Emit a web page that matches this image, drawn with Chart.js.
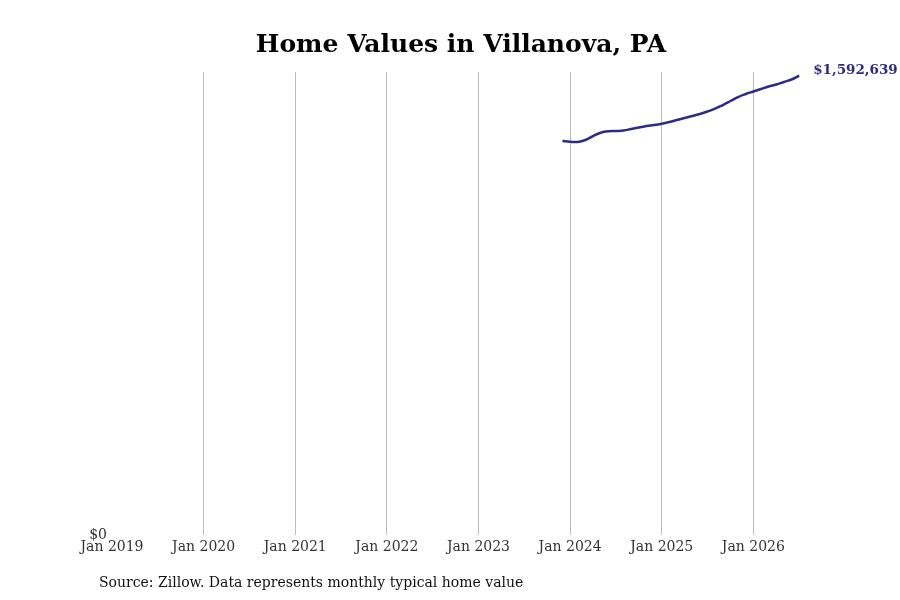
<!DOCTYPE html>
<html>
<head>
<meta charset="utf-8">
<script src="https://cdn.jsdelivr.net/npm/chart.js@4.4.1/dist/chart.umd.min.js"></script>
<style>
  html, body { margin: 0; padding: 0; background: #fff; }
  #wrap { position: relative; width: 900px; height: 600px; }
  #source {
    position: absolute; left: 99px; top: 574px;
    font: 14px "DejaVu Serif", serif; color: #111;
  }
</style>
</head>
<body>
<div id="wrap">
  <canvas id="chart" width="900" height="600"></canvas>
  <div id="source">Source: Zillow. Data represents monthly typical home value</div>
</div>
<script>
// months counted from Jan 2019 (0 = Jan 2019)
const startYear = 2019;
const months = [59, 60, 61, 62, 63, 64, 65, 66, 67, 68, 69, 70, 71, 72, 73, 74,
  75, 76, 77, 78, 79, 80, 81, 82, 83, 84, 85, 86, 87, 88, 89, 90];
const homeValues = [1365800, 1363400, 1362500, 1369300, 1383100, 1394600, 1399500, 1400500,
  1402200, 1407400, 1412600, 1417800, 1421300, 1425800, 1431700, 1438600,
  1445500, 1452500, 1459400, 1468100, 1477800, 1490600, 1504500, 1518300,
  1528700, 1537400, 1546100, 1554700, 1561700, 1570300, 1579000, 1592639];
const lastLabel = '$1,592,639';

const lineColor = '#2f2a86';

const endLabel = {
  id: 'endLabel',
  afterDatasetsDraw(chart) {
    const meta = chart.getDatasetMeta(0);
    const pt = meta.data[meta.data.length - 1];
    const ctx = chart.ctx;
    ctx.save();
    ctx.font = 'bold 13.5px "DejaVu Serif", serif';
    ctx.fillStyle = lineColor;
    ctx.textBaseline = 'middle';
    ctx.fillText(lastLabel, pt.x + 14, pt.y - 5);
    ctx.restore();
  }
};

new Chart(document.getElementById('chart'), {
  type: 'line',
  data: {
    datasets: [{
      data: months.map((m, i) => ({ x: m, y: homeValues[i] })),
      borderColor: lineColor,
      borderWidth: 2.5,
      pointRadius: 0,
      tension: 0.4,
      fill: false
    }]
  },
  options: {
    responsive: false,
    animation: false,
    layout: { padding: { left: 90, right: 68, top: 10, bottom: 40 } },
    plugins: {
      legend: { display: false },
      tooltip: { enabled: false },
      title: {
        display: true,
        text: 'Home Values in Villanova, PA',
        color: '#000',
        font: { family: 'DejaVu Serif', size: 25, weight: 'bold' },
        padding: { top: 20, bottom: 12 }
      }
    },
    scales: {
      x: {
        type: 'linear',
        min: 0,
        max: 94.3,
        border: { display: false },
        grid: {
          drawTicks: false,
          color: c => (c.tick && c.tick.value === 0) ? 'rgba(0,0,0,0)' : '#bdbdbd',
          lineWidth: 1
        },
        ticks: {
          stepSize: 12,
          padding: 4,
          maxRotation: 0,
          color: '#333',
          font: { family: 'DejaVu Serif', size: 14 },
          callback: v => (v % 12 === 0) ? 'Jan ' + (startYear + v / 12) : null
        }
      },
      y: {
        min: 0,
        max: 1605000,
        border: { display: false },
        grid: { display: false, drawTicks: false },
        afterFit: s => { s.width = 22; },
        ticks: {
          padding: 5,
          color: '#333',
          font: { family: 'DejaVu Serif', size: 14 },
          callback: v => v === 0 ? '$0' : null
        }
      }
    }
  },
  plugins: [endLabel]
});
</script>
</body>
</html>
